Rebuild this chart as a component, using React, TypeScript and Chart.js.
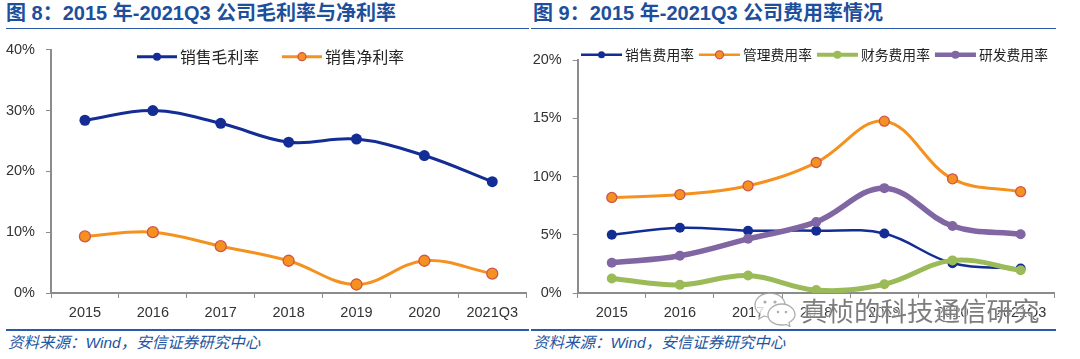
import React, { useEffect, useRef } from "react";
import { Chart, registerables } from "chart.js";

Chart.register(...registerables);

// ---------- data ----------
const years = ["2015", "2016", "2017", "2018", "2019", "2020", "2021Q3"];

const grossLabel = "销售毛利率";
const netLabel = "销售净利率";
const grossMargin = [28.4, 30.0, 27.9, 24.8, 25.3, 22.6, 18.3];
const netMargin = [9.3, 10.0, 7.7, 5.3, 1.4, 5.3, 3.2];

const salesLabel = "销售费用率";
const adminLabel = "管理费用率";
const finLabel = "财务费用率";
const rdLabel = "研发费用率";
const salesExp = [5.0, 5.6, 5.35, 5.35, 5.1, 2.55, 2.1];
const adminExp = [8.2, 8.45, 9.2, 11.2, 14.75, 9.8, 8.7];
const finExp = [1.25, 0.7, 1.5, 0.25, 0.75, 2.8, 1.95];
const rdExp = [2.6, 3.2, 4.65, 6.1, 9.0, 5.75, 5.05];

const leftTitle = "图 8：2015 年-2021Q3 公司毛利率与净利率";
const rightTitle = "图 9：2015 年-2021Q3 公司费用率情况";
const sourceText = "资料来源：Wind，安信证券研究中心";
const watermarkText = "真桢的科技通信研究";

// ---------- styles ----------
const FONT = "'Noto Sans CJK SC', 'Noto Sans', sans-serif";
const TICK_FONT = "'Liberation Sans', 'Noto Sans', sans-serif";
const AXIS = "#8c8c8c";
const TICK_TEXT = "#333333";
const BLUE = "#132d94";
const ORANGE = "#f5921f";
const ORANGE_EDGE = "#cf5450";
const GREEN = "#9bbb59";
const PURPLE = "#8066a3";
const TITLE_BLUE = "#1d4f9c";

const lineLegend = {
  id: "lineLegend",
  afterDraw(chart: any, _args: any, opts: any) {
    if (!opts || !opts.display) return;
    const ctx = chart.ctx;
    ctx.save();
    ctx.font = `${opts.fontSize}px ${FONT}`;
    ctx.textBaseline = "middle";
    ctx.textAlign = "left";
    let x = opts.x;
    const y = opts.y;
    chart.data.datasets.forEach((ds: any, i: number) => {
      const lw = opts.lineWidths[i];
      const r = opts.radii[i];
      ctx.strokeStyle = ds.borderColor;
      ctx.lineWidth = lw;
      ctx.lineCap = "butt";
      ctx.beginPath();
      ctx.moveTo(x, y);
      ctx.lineTo(x + opts.lineLen, y);
      ctx.stroke();
      ctx.beginPath();
      ctx.arc(x + opts.lineLen / 2, y, r, 0, Math.PI * 2);
      ctx.fillStyle = ds.pointBackgroundColor;
      ctx.fill();
      if (ds.pointBorderColor && ds.pointBorderColor !== ds.pointBackgroundColor) {
        ctx.lineWidth = 1.3;
        ctx.strokeStyle = ds.pointBorderColor;
        ctx.stroke();
      }
      x += opts.lineLen + opts.textGap;
      ctx.fillStyle = "#222";
      ctx.fillText(ds.label, x, y);
      x += ctx.measureText(ds.label).width + opts.itemGap;
    });
    ctx.restore();
  },
};

function lineDs(label: string, data: number[], color: string, width: number, radius: number, edge?: string, order = 0) {
  return {
    label,
    data,
    borderColor: color,
    backgroundColor: color,
    borderWidth: width,
    pointRadius: radius,
    pointHoverRadius: radius,
    pointBackgroundColor: color,
    pointBorderColor: edge || color,
    pointBorderWidth: edge ? 1.3 : 0,
    tension: 0.38,
    fill: false,
    order,
  };
}

function makeConfig(datasets: any[], yMax: number, step: number, padTop: number, padRight: number, yWidth: number, legend: any) {
  return {
    type: "line" as const,
    data: { labels: years, datasets },
    plugins: [lineLegend],
    options: {
      responsive: false,
      animation: false as const,
      layout: { padding: { top: padTop, right: padRight, left: 0, bottom: 0 } },
      plugins: {
        legend: { display: false },
        tooltip: { enabled: false },
        lineLegend: legend,
      },
      scales: {
        x: {
          type: "category" as const,
          offset: true,
          grid: { offset: true, drawOnChartArea: false, drawTicks: true, tickLength: 5, color: AXIS, lineWidth: 1 },
          border: { display: true, color: AXIS, width: 2 },
          ticks: { color: TICK_TEXT, font: { size: 14.5, family: TICK_FONT }, padding: 6, maxRotation: 0, autoSkip: false },
          afterFit: (s: any) => {
            s.height = 37;
          },
        },
        y: {
          min: 0,
          max: yMax,
          grid: { drawOnChartArea: false, drawTicks: true, tickLength: 5, color: AXIS, lineWidth: 1 },
          border: { display: true, color: AXIS, width: 2 },
          ticks: {
            stepSize: step,
            color: TICK_TEXT,
            font: { size: 14.5, family: TICK_FONT },
            padding: 11,
            callback: (v: any) => `${v}%`,
          },
          afterFit: (s: any) => {
            s.width = yWidth;
          },
        },
      },
    },
  };
}

export default function App() {
  const leftRef = useRef<HTMLCanvasElement | null>(null);
  const rightRef = useRef<HTMLCanvasElement | null>(null);

  useEffect(() => {
    const left = new Chart(
      leftRef.current as HTMLCanvasElement,
      makeConfig(
        [lineDs(grossLabel, grossMargin, BLUE, 3, 5.5), lineDs(netLabel, netMargin, ORANGE, 3, 5.5, ORANGE_EDGE)],
        40,
        10,
        15.7,
        4,
        51,
        { display: true, x: 137, y: 26.7, fontSize: 15.8, lineLen: 40, textGap: 3, itemGap: 23, lineWidths: [3, 3], radii: [4, 4] }
      ) as any
    );
    const right = new Chart(
      rightRef.current as HTMLCanvasElement,
      makeConfig(
        [
          lineDs(salesLabel, salesExp, BLUE, 2.5, 5, undefined, 4),
          lineDs(adminLabel, adminExp, ORANGE, 3, 5, ORANGE_EDGE, 3),
          lineDs(finLabel, finExp, GREEN, 5, 5, undefined, 2),
          lineDs(rdLabel, rdExp, PURPLE, 5.5, 5, undefined, 1),
        ],
        20,
        5,
        30,
        5.5,
        44.7,
        { display: true, x: 48, y: 24.8, fontSize: 13.8, lineLen: 41, textGap: 3, itemGap: 5, lineWidths: [2.5, 2.5, 4, 4.5], radii: [3.5, 4, 4, 4] }
      ) as any
    );
    return () => {
      left.destroy();
      right.destroy();
    };
  }, []);

  const titleStyle: React.CSSProperties = {
    position: "absolute",
    top: 0,
    height: 26,
    lineHeight: "26px",
    fontFamily: "'Liberation Sans', 'Noto Sans CJK SC', sans-serif",
    fontWeight: 700,
    fontSize: 20,
    color: TITLE_BLUE,
    whiteSpace: "nowrap",
  };
  const footStyle: React.CSSProperties = {
    position: "absolute",
    top: 333,
    height: 20,
    lineHeight: "20px",
    fontFamily: "'Liberation Sans', 'Noto Sans CJK SC', sans-serif",
    fontStyle: "italic",
    fontSize: 15.5,
    color: "#2355a0",
    whiteSpace: "nowrap",
  };
  const rule = (left: number, width: number, top: number): React.CSSProperties => ({
    position: "absolute",
    left,
    width,
    top,
    height: 1.5,
    background: "#2b5aa8",
  });

  return (
    <div
      style={{
        position: "absolute",
        left: 0,
        top: 0,
        width: 1080,
        height: 359,
        background: "#ffffff",
        overflow: "hidden",
      }}
    >
      <div style={{ ...titleStyle, left: 6 }}>{leftTitle}</div>
      <div style={{ ...titleStyle, left: 533 }}>{rightTitle}</div>
      <div style={rule(6, 523, 27.5)} />
      <div style={rule(531, 525, 27.5)} />

      <canvas ref={leftRef} width={533} height={300} style={{ position: "absolute", left: 0, top: 30 }} />
      <canvas ref={rightRef} width={528} height={300} style={{ position: "absolute", left: 533, top: 30 }} />

      <div style={rule(6, 523, 329)} />
      <div style={rule(531, 525, 329)} />
      <div style={{ ...footStyle, left: 8 }}>{sourceText}</div>
      <div style={{ ...footStyle, left: 533 }}>{sourceText}</div>

      <svg width={42} height={36} viewBox="0 0 42 36" style={{ position: "absolute", left: 754, top: 291, opacity: 0.8 }}>
        <path d="M16 2 C7 2 1 8 1 14 C1 18 3 21 6 23 L5 28 L10 25 C12 26 14 26 16 26 C25 26 31 20 31 14 C31 8 25 2 16 2 Z" fill="#ffffff" stroke="#9a9a9a" strokeWidth={1.3} />
        <circle cx={11} cy={11} r={1.6} fill="#9a9a9a" />
        <circle cx={21} cy={11} r={1.6} fill="#9a9a9a" />
        <path d="M28 13 C20 13 14 18 14 24 C14 30 20 34 28 34 C29.5 34 31 34 32 33.5 L36 35.5 L35 31.5 C38.5 29.5 41 27 41 24 C41 18 35 13 28 13 Z" fill="#ffffff" stroke="#9a9a9a" strokeWidth={1.3} />
        <circle cx={24} cy={21} r={1.3} fill="#9a9a9a" />
        <circle cx={32} cy={21} r={1.3} fill="#9a9a9a" />
      </svg>
      <div
        style={{
          position: "absolute",
          left: 801,
          top: 294,
          height: 32,
          lineHeight: "32px",
          fontFamily: "'Noto Sans CJK SC', sans-serif",
          fontSize: 26.5,
          color: "#7d7d7d",
          whiteSpace: "nowrap",
          textShadow: "0 0 2px #fff, 0 0 2px #fff, 0 0 1px #fff",
        }}
      >
        {watermarkText}
      </div>
    </div>
  );
}
